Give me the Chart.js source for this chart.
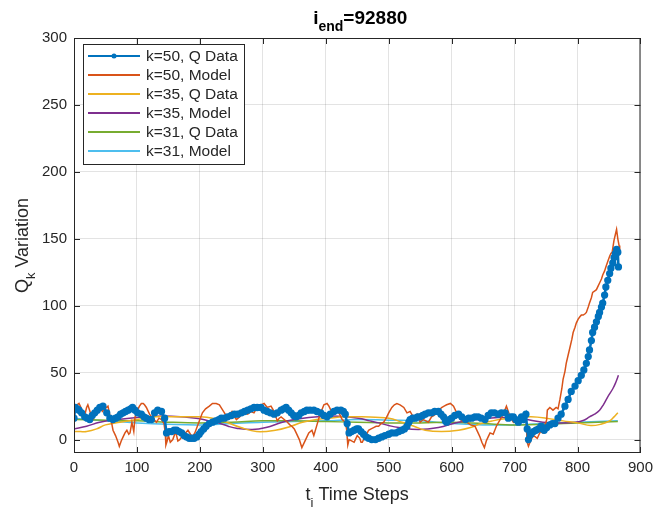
<!DOCTYPE html>
<html>
<head>
<meta charset="utf-8">
<script src="https://cdn.jsdelivr.net/npm/chart.js@4.4.0/dist/chart.umd.min.js"></script>
<style>
  html, body { margin: 0; padding: 0; background: #fff; }
  #wrap { width: 659px; height: 510px; }
</style>
</head>
<body>
<div id="wrap"><canvas id="chart" width="659" height="510"></canvas></div>
<script>
// tick labels
const xTicks = [0, 100, 200, 300, 400, 500, 600, 700, 800, 900];
const yTicks = [0, 50, 100, 150, 200, 250, 300];

// k=50, Q data
const t50data = [0,2,5,8,12,17,21,25,29,33,37,41,46,52,57,62,66,70,74,78,82,86,90,93,97,101,107,111,115,119,
  123,128,133,139,144,147,151,155,159,163,167,171,175,179,183,187,191,195,199,202,206,210,215,220,225,230,234,239,244,250,
  255,260,266,271,276,281,286,291,297,302,307,312,318,323,329,333,337,341,345,349,353,357,361,366,370,375,381,386,392,397,
  402,407,413,418,424,428,431,434,437,441,445,449,452,456,460,464,468,473,479,484,489,494,500,505,511,516,521,525,529,532,
  534,538,542,546,550,554,558,563,568,573,579,583,587,590,592,596,600,605,611,616,622,627,632,637,642,647,653,658,663,668,
  674,679,685,690,694,698,702,706,711,714,718,720,722,726,730,734,738,742,747,751,756,760,764,769,774,780,785,790,796,801,
  806,810,814,817,819,822,824,827,830,833,835,838,840,843,845,848,851,853,856,858,860,862,864,865];
const q50data = [16,24,23,22,20,17,16,15,18,20,22,24,25,20,16,15,16,17,19,20,21,22,23,24,22,20,19,17,16,15,
  15,20,22,21,16,5,6,6,7,7,6,5,3,2,1,1,1,2,4,6,8,10,12,13,14,15,16,16,17,18,
  19,19,20,21,22,23,24,24,24,22,21,20,19,20,22,23,24,22,20,18,17,18,20,21,22,22,22,21,20,18,
  17,19,21,22,22,21,19,12,5,6,7,8,8,6,4,2,1,0,0,1,2,3,4,5,5,6,7,8,10,13,
  15,16,16,17,17,18,19,20,20,21,21,19,17,14,13,15,16,18,19,17,15,16,16,17,17,16,15,18,20,20,
  19,20,20,16,17,17,15,13,17,15,19,8,0,4,6,7,8,10,7,9,11,12,12,16,19,25,30,36,40,44,
  48,52,57,62,67,74,80,84,88,92,95,99,102,108,114,119,124,128,132,136,139,142,140,129];

// k=50, Model
const t50model = [0,2,5,8,11,14,17,20,22,26,30,34,38,41,45,49,54,57,60,62,66,70,72,75,78,81,84,87,89,92,
  95,97,101,104,107,110,112,115,117,120,123,127,131,135,139,143,145,146,148,150,153,157,160,162,165,168,171,173,177,181,
  185,188,192,196,200,204,209,215,220,226,231,235,239,244,248,251,255,258,263,267,271,276,281,286,291,297,302,307,313,318,
  323,326,329,334,339,343,346,350,353,358,362,365,368,373,378,381,386,389,392,397,402,405,408,413,417,421,426,431,433,435,
  437,441,445,450,454,456,458,461,463,468,472,476,480,484,488,492,496,500,505,509,513,518,524,529,534,540,545,550,555,559,
  563,568,572,576,580,584,588,592,598,603,608,614,619,624,630,637,642,645,648,652,655,658,661,666,671,677,682,687,690,693,
  698,703,709,714,716,718,720,722,726,730,733,736,739,741,745,748,751,752,756,761,766,769,772,775,777,780,782,785,788,791,
  793,796,798,801,804,806,809,812,814,817,819,822,824,827,830,833,835,838,840,843,845,848,851,853,855,857,858,860,862,864,866,867];
const q50model = [18,22,26,27,24,20,18,24,26,20,15,19,23,25,21,23,25,18,12,7,3,-2,-5,-1,2,5,7,4,5,13,
  6,17,22,25,27,27,26,24,22,19,17,15,13,16,15,12,5,-4,-1,3,-2,0,4,5,-1,0,2,3,5,7,
  4,2,5,10,15,20,23,25,27,27,26,23,20,16,19,21,17,15,17,19,20,19,21,20,24,26,27,24,25,21,
  14,16,17,15,13,11,10,8,5,0,-6,-3,0,5,7,3,11,16,20,26,27,25,22,19,21,20,15,13,8,-4,
  0,-1,-2,3,1,-2,-2,1,2,7,8,9,10,10,12,13,16,20,24,26,27,26,24,20,21,16,19,13,15,14,
  13,17,18,20,22,24,25,26,27,25,20,15,13,13,11,10,5,2,-2,-6,-1,2,5,4,10,15,19,25,21,17,
  13,16,15,19,15,17,-2,-5,0,3,2,1,4,6,5,10,15,22,24,22,24,23,30,38,45,51,57,63,69,75,
  80,84,87,90,92,93,93,94,95,99,102,106,110,111,112,115,117,120,123,126,129,133,137,139,140,146,149,153,157,150,145,140];

// k=35
const t35data = [0,10,20,36,50,73,100,130,168,200,220,242,265,290,320,345,363,385,405,430,457,500,521,540,558,584,611,630,647,665,685,710,726,750,777,800,821,837,851,858,864];
const q35data = [6,6,6,8,11,13,15,17,17,17,16,13,9,6,7,10,13,15,16,17,17,16,13,10,7,6,7,9,12,14,15.5,16.5,17,16,14,12.5,10.5,11.5,14,17,20];
const t35model = [0,20,41,70,100,130,155,194,215,226,245,258,283,305,331,350,373,400,420,452,470,484,500,516,547,579,611,642,674,700,714,745,777,797,810,819,827,835,841,848,856,861,865];
const q35model = [8,10,13,15,16.5,17.5,17.5,16,14,13,10,8.5,7.5,9,13,15,16.5,17.5,17.5,16,14,12.5,10.5,9,7.5,9,13,15,16.5,16,15.5,13,12.5,13,14.5,17,19,22,26,32,38,43,48];

// k=31
const t31data = [0,50,100,150,200,250,300,350,400,450,500,550,600,650,700,750,800,864];
const q31data = [15,14.5,14,13,12.5,13,14,14,13.5,13,12.5,12.5,13,12,11,11.5,12.5,13.5];
const t31model = [0,50,100,150,200,250,300,350,400,450,500,550,600,650,700,750,800,864];
const q31model = [16,14,12.5,11.5,11,12,13,13.5,14,15,14.5,14,12,11,11,12,13,14];

const labels = ['k=50, Q Data', 'k=50, Model', 'k=35, Q Data', 'k=35, Model', 'k=31, Q Data', 'k=31, Model'];
const colors = ['#0072BD', '#D95319', '#EDB120', '#7E2F8E', '#77AC30', '#4DBEEE'];

const pts = (ts, vs) => ts.map((t, i) => ({ x: t, y: vs[i] }));

const FONT = '"Liberation Sans", Arial, Helvetica, sans-serif';
const INK = '#262626';

// draw text with subscript pieces, centred on cx
function drawParts(ctx, parts, cx, baseline, size, bold) {
  const w = bold ? 'bold ' : '';
  let total = 0;
  parts.forEach(p => {
    ctx.font = w + (p.sub ? Math.round(size * 0.72) : size) + 'px ' + FONT;
    p.w = ctx.measureText(p.text).width;
    total += p.w;
  });
  let x = cx - total / 2;
  ctx.textAlign = 'left';
  ctx.textBaseline = 'alphabetic';
  parts.forEach(p => {
    ctx.font = w + (p.sub ? Math.round(size * 0.72) : size) + 'px ' + FONT;
    ctx.fillText(p.text, x, baseline + (p.sub ? size * 0.38 : 0));
    x += p.w;
  });
}

const decorations = {
  id: 'decorations',
  afterDatasetsDraw(chart) {
    const { ctx, chartArea: a, scales: { x, y } } = chart;
    ctx.save();
    ctx.strokeStyle = INK;
    ctx.lineWidth = 1;
    ctx.strokeRect(a.left + 0.5, a.top + 0.5, a.right - a.left - 1, a.bottom - a.top - 1);
    ctx.beginPath();
    xTicks.forEach(v => {
      const px = Math.round(x.getPixelForValue(v)) + 0.5;
      ctx.moveTo(px, a.bottom); ctx.lineTo(px, a.bottom - 6);
      ctx.moveTo(px, a.top); ctx.lineTo(px, a.top + 6);
    });
    yTicks.forEach(v => {
      const py = Math.round(y.getPixelForValue(v)) + 0.5;
      ctx.moveTo(a.left, py); ctx.lineTo(a.left + 6, py);
      ctx.moveTo(a.right, py); ctx.lineTo(a.right - 6, py);
    });
    ctx.stroke();

    // legend
    const lx = 83, ly = 44, lw = 161, rowH = 19;
    ctx.fillStyle = '#fff';
    ctx.fillRect(lx, ly, lw, rowH * 6 + 6);
    ctx.strokeStyle = INK;
    ctx.strokeRect(lx + 0.5, ly + 0.5, lw, rowH * 6 + 6);
    chart.data.datasets.forEach((ds, i) => {
      const cy = ly + 12 + i * rowH;
      ctx.strokeStyle = ds.borderColor;
      ctx.lineWidth = 2;
      ctx.beginPath();
      ctx.moveTo(88, cy); ctx.lineTo(140, cy);
      ctx.stroke();
      if (i === 0) {
        ctx.fillStyle = ds.borderColor;
        ctx.beginPath(); ctx.arc(114, cy, 2.5, 0, Math.PI * 2); ctx.fill();
      }
      ctx.fillStyle = INK;
      ctx.font = '15.5px ' + FONT;
      ctx.textAlign = 'left';
      ctx.textBaseline = 'middle';
      ctx.fillText(ds.label, 146, cy + 1);
    });

    // titles
    ctx.fillStyle = '#000';
    drawParts(ctx, [{ text: 'i' }, { text: 'end', sub: true }, { text: '=92880' }], (a.left + a.right) / 2 + 3, 24, 19, true);
    ctx.fillStyle = INK;
    drawParts(ctx, [{ text: 't' }, { text: 'i', sub: true }, { text: ' Time Steps' }], (a.left + a.right) / 2, 500, 18, false);
    ctx.translate(28, (a.top + a.bottom) / 2);
    ctx.rotate(-Math.PI / 2);
    drawParts(ctx, [{ text: 'Q' }, { text: 'k', sub: true }, { text: ' Variation' }], 0, 0, 18, false);
    ctx.restore();
  }
};

const series = [
  pts(t50data, q50data), pts(t50model, q50model),
  pts(t35data, q35data), pts(t35model, q35model),
  pts(t31data, q31data), pts(t31model, q31model)
];

new Chart(document.getElementById('chart'), {
  type: 'line',
  data: {
    datasets: series.map((d, i) => ({
      label: labels[i],
      data: d,
      borderColor: colors[i],
      backgroundColor: colors[i],
      borderWidth: i === 0 ? 2.5 : 1.5,
      pointRadius: i === 0 ? 2.4 : 0,
      pointHoverRadius: 0,
      tension: i >= 2 ? 0.4 : 0,
      fill: false
    }))
  },
  options: {
    responsive: false,
    animation: false,
    layout: { padding: { top: 38, right: 16, bottom: 0, left: 0 } },
    plugins: { legend: { display: false }, title: { display: false }, tooltip: { enabled: false } },
    scales: {
      x: {
        type: 'linear',
        min: 0, max: 900,
        afterFit: s => { s.height = 57; },
        afterBuildTicks: s => { s.ticks = xTicks.map(v => ({ value: v })); },
        grid: { color: 'rgba(38,38,38,0.13)', drawTicks: false },
        border: { display: false },
        ticks: { color: INK, font: { family: FONT, size: 15 }, padding: 6, maxRotation: 0 }
      },
      y: {
        min: -10, max: 300,
        afterFit: s => { s.width = 74; },
        afterBuildTicks: s => { s.ticks = yTicks.map(v => ({ value: v })); },
        grid: { color: 'rgba(38,38,38,0.13)', drawTicks: false },
        border: { display: false },
        ticks: { color: INK, font: { family: FONT, size: 15 }, padding: 7 }
      }
    }
  },
  plugins: [decorations]
});
</script>
</body>
</html>
